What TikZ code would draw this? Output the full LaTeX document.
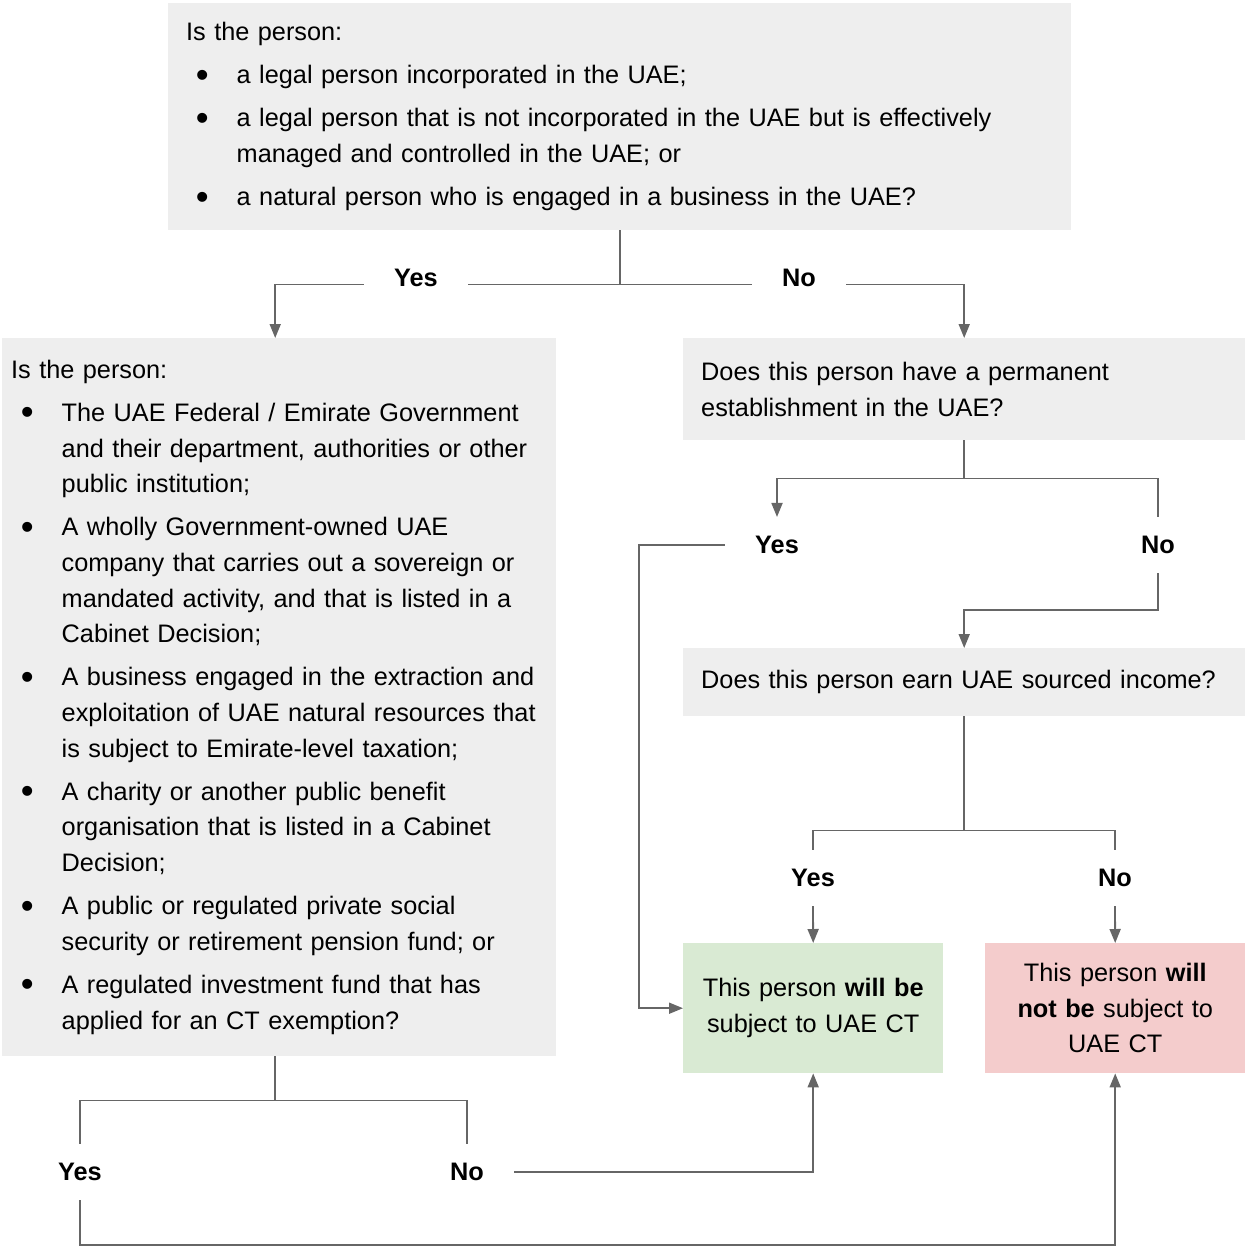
\documentclass[tikz,border=0pt]{standalone}
\usepackage{fontspec}
\setmainfont{Liberation Sans}
\usetikzlibrary{arrows.meta, positioning}

\definecolor{boxgray}{HTML}{EEEEEE}
\definecolor{boxgreen}{HTML}{D9EAD3}
\definecolor{boxred}{HTML}{F4CCCC}
\definecolor{linegray}{HTML}{666666}

\newcommand{\bul}{\leavevmode\llap{\raisebox{-3.5pt}{\scalebox{1.45}{\textbullet}}\hspace{28pt}}}
\newcommand{\itm}[1]{\par{\leftskip=50.5pt\relax\bul#1\par}}

\tikzset{
  qbox/.style={fill=boxgray, anchor=north west, inner ysep=0pt, align=left,
    font={\fontsize{25.3pt}{35.7pt}\selectfont}},
  endbox/.style={anchor=north west, text width=240pt, inner xsep=10pt,
    inner ysep=0pt, minimum height=130pt, align=center,
    font={\fontsize{25.3pt}{35.7pt}\selectfont}},
  lbl/.style={font={\fontsize{25.3pt}{35.7pt}\selectfont\bfseries},
    inner xsep=30pt, inner ysep=19pt},
  flow/.style={draw=linegray, line width=1.8pt},
  arr/.style={flow, -{Triangle[length=14pt, width=11pt]}}
}

\begin{document}
\begin{tikzpicture}[x=1pt, y=-1pt]
    \useasboundingbox (0,0) rectangle (1245,1247);

    % question boxes
    \node[qbox, text width=867pt, inner xsep=18pt, minimum height=227pt] (q1) at (168,3) {\setlength{\parskip}{7.3pt}Is the person:
      \itm{a legal person incorporated in the UAE;}
      \itm{a legal person that is not incorporated in the UAE but is effectively\newline managed and controlled in the UAE; or}
      \itm{a natural person who is engaged in a business in the UAE?}};

    \node[qbox, text width=536pt, inner xsep=9pt, minimum height=718pt] (q2) at (2,338) {\setlength{\parskip}{7.3pt}Is the person:
      \itm{The UAE Federal / Emirate Government\newline and their department, authorities or other\newline public institution;}
      \itm{A wholly Government-owned UAE\newline company that carries out a sovereign or\newline mandated activity, and that is listed in a\newline Cabinet Decision;}
      \itm{A business engaged in the extraction and\newline exploitation of UAE natural resources that\newline is subject to Emirate-level taxation;}
      \itm{A charity or another public benefit\newline organisation that is listed in a Cabinet\newline Decision;}
      \itm{A public or regulated private social\newline security or retirement pension fund; or}
      \itm{A regulated investment fund that has\newline applied for an CT exemption?}};

    \node[qbox, text width=526pt, inner xsep=18pt, minimum height=102pt] (p1) at (683,338) {Does this person have a permanent\\establishment in the UAE?};
    \node[qbox, text width=526pt, inner xsep=18pt, minimum height=68pt] (p2) at (683,648) {Does this person earn UAE sourced income?};

    % outcomes
    \node[endbox, fill=boxgreen] (g) at (683,943) {This person \textbf{will be}\\subject to UAE CT};
    \node[endbox, fill=boxred] (r) at (985,943) {This person \textbf{will}\\\textbf{not be} subject to\\UAE CT};

    % answers
    \node[lbl] (yes1) at (416,278) {Yes};
    \node[lbl] (no1) at (799,278) {No};
    \node[lbl] (yes2) at (777,545) {Yes};
    \node[lbl] (no2) at (1158,545) {No};
    \node[lbl] (yes3) at (813,878) {Yes};
    \node[lbl] (no3) at (1115,878) {No};
    \node[lbl] (yes4) at (80,1172) {Yes};
    \node[lbl] (no4) at (467,1172) {No};

    \path (q1.south) ++(0,54) coordinate (j1);
    \path (p1.south) ++(0,38) coordinate (j2);
    \path (p2.south) ++(0,114) coordinate (j3);
    \path ([xshift=-4pt]q2.south) ++(0,44) coordinate (j4);
    \coordinate (k1) at (639,545);
    \path (no2.south) ++(0,37) coordinate (k2);
    \path (yes4.south) ++(0,45) coordinate (k4);

    \draw[flow] (q1.south) -- (j1) -- (j1 -| yes1.east);
    \draw[flow] (j1) -- (j1 -| no1.west);
    \draw[arr] (j1 -| yes1.west) -| ([xshift=-4pt]q2.north);
    \draw[arr] (j1 -| no1.east) -| (p1.north);

    \draw[flow] (p1.south) -- (j2);
    \draw[arr] (j2) -| (yes2.north);
    \draw[flow] (j2) -| (no2.north);
    \draw[arr] (yes2.west) -- (k1) |- (g.west);
    \draw[arr] (no2.south) -- (k2) -| (p2.north);

    \draw[flow] (p2.south) -- (j3);
    \draw[flow] (j3) -| (yes3.north);
    \draw[flow] (j3) -| (no3.north);
    \draw[arr] (yes3.south) -- (g.north);
    \draw[arr] (no3.south) -- (r.north);

    \draw[flow] ([xshift=-4pt]q2.south) -- (j4);
    \draw[flow] (j4) -| (yes4.north);
    \draw[flow] (j4) -| (no4.north);
    \draw[arr] (no4.east) -| (g.south);
    \draw[arr] (yes4.south) -- (k4) -| (r.south);
\end{tikzpicture}
\end{document}
